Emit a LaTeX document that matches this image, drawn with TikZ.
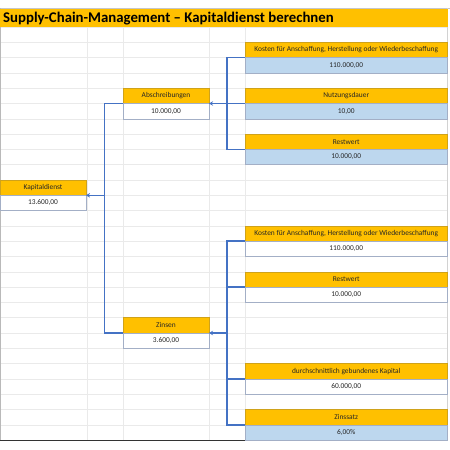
\documentclass[tikz,border=0pt]{standalone}
\usepackage{fontspec}
\setmainfont{Carlito}
\usetikzlibrary{arrows.meta,calc}
\definecolor{hdr}{HTML}{FFC000}
\definecolor{valblue}{HTML}{BDD7EE}
\definecolor{connc}{HTML}{4472C4}
\definecolor{gridc}{HTML}{EAEAEA}
\definecolor{vbord}{HTML}{A3AFC6}
\definecolor{hbord}{HTML}{CFA21A}
\begin{document}
\begin{tikzpicture}[x=1pt,y=-1pt,
  cell/.style={minimum height=15.3pt, inner sep=0pt, outer sep=0pt, anchor=north west,
    line width=0.6pt, font=\fontsize{7.4}{8.5}\selectfont, text=black!85},
  hdrbox/.style={cell, draw=hbord, fill=hdr},
  valbox/.style={cell, draw=vbord, fill=white},
  blueval/.style={valbox, fill=valblue},
  narrow/.style={minimum width=86pt},
  wide/.style={minimum width=202.5pt},
  conn/.style={draw=connc, line width=1.6pt},
  arr/.style={conn, -{Stealth[length=4pt,width=4.5pt]}},
  gridline/.style={draw=gridc, line width=0.6pt}]
\useasboundingbox (0,0) rectangle (450,450);
% grid
\foreach \r in {0,...,27} \draw[gridline] (0,{27+15.3*\r}) -- (447.5,{27+15.3*\r});
\foreach \c in {87,123,209,245} \draw[gridline] (\c,27) -- (\c,440.1);
% frame
\draw[gray!45, line width=0.8pt] (0,8.3) -- (450,8.3);
\draw[gray!55, line width=0.8pt] (0.6,8.3) -- (0.6,440.5);
\draw[gray!35, line width=0.6pt] (447.5,8.3) -- (447.5,440.5);
\draw[black!80, line width=1pt] (0,440.6) -- (447.5,440.6);
% title
\fill[hdr] (0,9) rectangle (447.5,27);
\node[anchor=west, inner sep=0pt, font=\fontsize{14.8}{17}\selectfont\bfseries] (title) at (3,18.3) {Supply-Chain-Management – Kapitaldienst berechnen};
% left column
\node[hdrbox, narrow] (kaph) at (0,180) {Kapitaldienst};
\node[valbox, narrow] (kapv) at (kaph.south west) {13.600,00};
% middle column
\node[hdrbox, narrow] (absh) at (123,88.2) {Abschreibungen};
\node[valbox, narrow] (absv) at (absh.south west) {10.000,00};
\node[hdrbox, narrow] (zinh) at (123,317.7) {Zinsen};
\node[valbox, narrow] (zinv) at (zinh.south west) {3.600,00};
% right column, top group
\node[hdrbox, wide] (k1h) at (245,42.3) {Kosten für Anschaffung, Herstellung oder Wiederbeschaffung};
\node[blueval, wide] (k1v) at (k1h.south west) {110.000,00};
\node[hdrbox, wide] (nuh) at (245,88.2) {Nutzungsdauer};
\node[blueval, wide] (nuv) at (nuh.south west) {10,00};
\node[hdrbox, wide] (r1h) at (245,134.1) {Restwert};
\node[blueval, wide] (r1v) at (r1h.south west) {10.000,00};
% right column, bottom group
\node[hdrbox, wide] (k2h) at (245,225.9) {Kosten für Anschaffung, Herstellung oder Wiederbeschaffung};
\node[valbox, wide] (k2v) at (k2h.south west) {110.000,00};
\node[hdrbox, wide] (r2h) at (245,271.8) {Restwert};
\node[valbox, wide] (r2v) at (r2h.south west) {10.000,00};
\node[hdrbox, wide] (dgh) at (245,363.6) {durchschnittlich gebundenes Kapital};
\node[valbox, wide] (dgv) at (dgh.south west) {60.000,00};
\node[hdrbox, wide] (zsh) at (245,409.5) {Zinssatz};
\node[blueval, wide] (zsv) at (zsh.south west) {6,00\%};
% bus coordinates
\coordinate (busL) at (104.5,0);
\coordinate (busR) at (227,0);
% top group connectors
\draw[conn] (k1h.south west) -- (busR |- k1h.south west) -- (busR |- r1h.south west) -- (r1h.south west);
\draw[conn] (nuh.south west) -- (busR |- nuh.south west);
\draw[arr] (busR |- absh.south east) -- (absh.south east);
% left connectors
\draw[conn] (absh.south west) -- (busL |- absh.south west) -- (busL |- zinh.south west) -- (zinh.south west);
\draw[arr] (busL |- kaph.south east) -- (kaph.south east);
% bottom group connectors
\draw[conn] (k2h.south west) -- (busR |- k2h.south west) -- (busR |- zsh.south west) -- (zsh.south west);
\draw[conn] (r2h.south west) -- (busR |- r2h.south west);
\draw[conn] (dgh.south west) -- (busR |- dgh.south west);
\draw[arr] (busR |- zinh.south east) -- (zinh.south east);
\end{tikzpicture}
\end{document}
